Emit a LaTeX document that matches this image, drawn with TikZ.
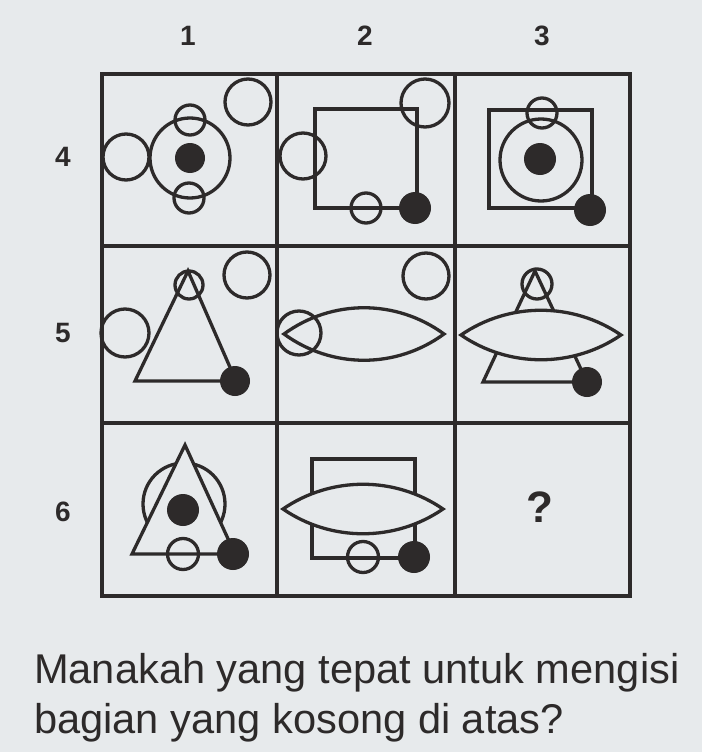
\documentclass[tikz,border=0pt]{standalone}
\usepackage{fontspec}
\setmainfont{Liberation Sans}
\usepackage{tikz}
\definecolor{paper}{RGB}{231,234,236}
\definecolor{ink}{RGB}{45,42,42}

\begin{document}
\begin{tikzpicture}[x=1pt,y=-1pt,
                    fig/.style={draw=ink,line width=3.3pt},
                    cover/.style={fig,fill=paper},
                    blob/.style={fill=ink},
                    grid/.style={draw=ink,line width=3.1pt},
                    num/.style={text=ink,font=\fontsize{28}{30}\selectfont\bfseries,inner sep=0pt},
                    ask/.style={text=ink,font=\fontsize{41.6}{50}\selectfont,inner sep=0pt,anchor=base west}]
\fill[paper] (0,0) rectangle (702,752);
\useasboundingbox (0,0) rectangle (702,752);

\node[num] (c1) at (188,36) {1};
\node[num] (c2) at (365,36) {2};
\node[num] (c3) at (542,36) {3};
\node[num] (r4) at (63,157) {4};
\node[num] (r5) at (63,333) {5};
\node[num] (r6) at (63,512) {6};

\draw[grid] (102,74) rectangle (630,596);
\draw[grid] (277,74) -- (277,596) (455,74) -- (455,596);
\draw[grid] (102,246) -- (630,246) (102,423) -- (630,423);

% row 4
\draw[fig] (190,158) circle (40);
\fill[blob] (190,158) circle (15);
\draw[fig] (190,120) circle (15);
\draw[fig] (189,198) circle (15);
\draw[fig] (126,157) circle (23);
\draw[fig] (248,102) circle (23);

\draw[fig] (315,109) rectangle (417,208);
\draw[fig] (425,103) circle (24);
\draw[fig] (303,156) circle (23);
\draw[fig] (366,208) circle (15);
\fill[blob] (415,208) circle (16);

\draw[fig] (489,110) rectangle (592,208);
\draw[fig] (541,160) circle (41);
\fill[blob] (540,159) circle (16);
\draw[fig] (542,113) circle (15);
\fill[blob] (590,210) circle (16);

% row 5
\draw[fig] (188,271) -- (135,381) -- (236,381) -- cycle;
\draw[fig] (189,285) circle (14);
\draw[fig] (125,333) circle (24);
\draw[fig] (247,275) circle (23);
\fill[blob] (235,381) circle (15);

\draw[fig] (284,334) .. controls (332,299) and (396,299) .. (444,334)
                     .. controls (396,369) and (332,369) .. (284,334) -- cycle;
\draw[fig] (299,333) circle (22);
\draw[fig] (426,276) circle (23);

\draw[fig] (535,271) -- (483,382) -- (587,382) -- cycle;
\draw[fig] (537,284) circle (15);
\draw[cover] (461,335) .. controls (509,302) and (573,302) .. (621,335)
                       .. controls (573,368) and (509,368) .. (461,335) -- cycle;
\fill[blob] (587,382) circle (15);

% row 6
\draw[fig] (184,504) circle (41);
\draw[cover] (185,445) -- (132,554) -- (235,554) -- cycle;
\fill[blob] (183,510) circle (16);
\draw[fig] (183,554) circle (15.5);
\fill[blob] (233,554) circle (16);

\draw[fig] (312,459) rectangle (415,558);
\draw[cover] (283,509) .. controls (331,476) and (395,476) .. (443,509)
                       .. controls (395,542) and (331,542) .. (283,509) -- cycle;
\draw[fig] (363,557) circle (15.5);
\fill[blob] (414,557) circle (16);

\node[text=ink,font=\fontsize{44}{48}\selectfont\bfseries,inner sep=0pt] (q) at (540,507) {?};

\node[ask] (line1) at (34,683) {Manakah yang tepat untuk mengisi};
\node[ask] (line2) at (34,733) {bagian yang kosong di atas?};
\end{tikzpicture}
\end{document}
